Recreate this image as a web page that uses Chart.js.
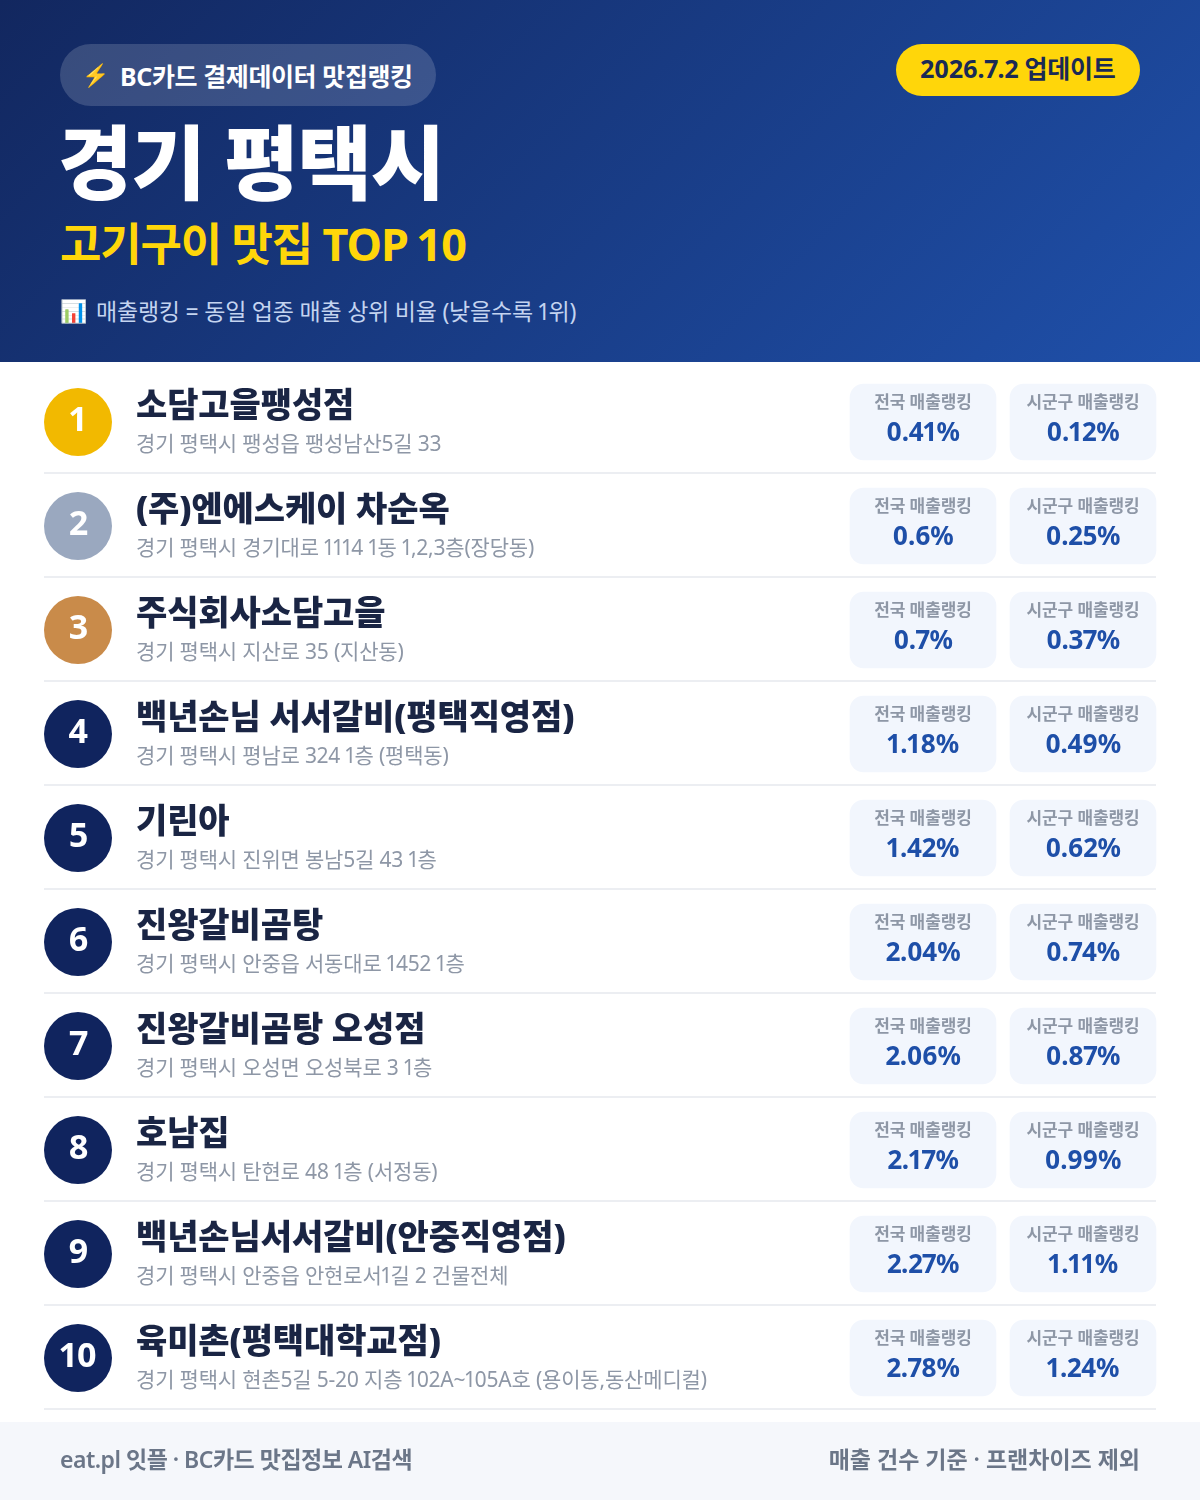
<!DOCTYPE html>
<html lang="ko"><head><meta charset="utf-8">
<style>
*{box-sizing:border-box;margin:0;padding:0}
html,body{width:1200px;height:1500px;background:#fff;overflow:hidden;font-family:"Noto Sans","Noto Sans CJK KR",sans-serif;font-variant-numeric:proportional-nums}
#hdr{position:absolute;left:0;top:0;width:1200px;height:362px;background:linear-gradient(135deg,#12275f 0%,#1f50aa 100%)}
#hdr div,#ftr div{position:absolute;white-space:nowrap}
#badge{left:60px;top:44px;width:376px;height:62px;border-radius:31px;background:rgba(255,255,255,.16)}
#badgeT{left:120px;top:58px;font-size:25px;line-height:37px;font-weight:700;color:#fff;letter-spacing:-.4px}
#bolt{left:82px;top:60px;font-size:22px;line-height:28px}
#date{left:896px;top:44px;width:244px;height:52px;border-radius:26px;background:#ffd60a;color:#1a2a55;font-size:25px;font-weight:700;line-height:48px;text-align:center;letter-spacing:-.2px}
#title{left:58px;top:104px;font-size:81px;line-height:116px;font-weight:900;color:#fff;letter-spacing:-1.3px}
#sub{left:60px;top:212px;font-size:45px;line-height:64px;font-weight:700;color:#ffd60a;letter-spacing:-1.15px}
#note{left:96px;top:294px;font-size:23px;line-height:34px;color:#c4d4f0;letter-spacing:-.22px}
#chartIc{left:60px;top:295px;font-size:22px;line-height:30px}
#wrap{position:absolute;left:0;top:362px;width:1200px;height:1060px}
#wrap canvas{position:absolute;left:0;top:0}
#ov{position:absolute;left:0;top:0;width:1200px;height:1060px}
#ov span{position:absolute;white-space:nowrap;line-height:0}
#ftr{position:absolute;left:0;top:1422px;width:1200px;height:78px;background:#f5f7fb;color:#6b7688;font-size:23px;font-weight:600;line-height:34px}
#fl{left:60px;top:20px;letter-spacing:-.5px}#fr{right:60px;top:20px;letter-spacing:0}
</style>
<script src="https://cdn.jsdelivr.net/npm/chart.js@4"></script>
</head><body>
<div id="hdr">
<div id="badge"></div><div id="bolt">⚡</div><div id="badgeT">BC카드 결제데이터 맛집랭킹</div>
<div id="date">2026.7.2 업데이트</div>
<div id="title">경기 평택시</div>
<div id="sub">고기구이 맛집 TOP 10</div>
<div id="chartIc">📊</div><div id="note">매출랭킹 = 동일 업종 매출 상위 비율 (낮을수록 1위)</div>
</div>
<div id="wrap"><canvas id="c" width="1200" height="1060"></canvas><div id="ov"></div></div>
<div id="ftr"><div id="fl">eat.pl 잇플 · BC카드 맛집정보 AI검색</div><div id="fr">매출 건수 기준 · 프랜차이즈 제외</div></div>
<script>
const ranks=["1","2","3","4","5","6","7","8","9","10"];
const names=["소담고을팽성점","(주)엔에스케이 차순옥","주식회사소담고을","백년손님 서서갈비(평택직영점)","기린아","진왕갈비곰탕","진왕갈비곰탕 오성점","호남집","백년손님서서갈비(안중직영점)","육미촌(평택대학교점)"];
const addresses=["경기 평택시 팽성읍 팽성남산5길 33","경기 평택시 경기대로 1114 1동 1,2,3층(장당동)","경기 평택시 지산로 35 (지산동)","경기 평택시 평남로 324 1층 (평택동)","경기 평택시 진위면 봉남5길 43 1층","경기 평택시 안중읍 서동대로 1452 1층","경기 평택시 오성면 오성북로 3 1층","경기 평택시 탄현로 48 1층 (서정동)","경기 평택시 안중읍 안현로서1길 2 건물전체","경기 평택시 현촌5길 5-20 지층 102A~105A호 (용이동,동산메디컬)"];
const nationalRank=[0.41,0.6,0.7,1.18,1.42,2.04,2.06,2.17,2.27,2.78];
const localRank=[0.12,0.25,0.37,0.49,0.62,0.74,0.87,0.99,1.11,1.24];
const seriesLabels=["전국 매출랭킹","시군구 매출랭킹"];

const cols={badge:78,text:136,nat:[850,996],loc:[1010,1156],ruleL:44,ruleR:1156};
const cellData=(vals,col)=>vals.map((v,i)=>({x:col,y:ranks[i],value:v}));
const tableText={id:'tableText',
 beforeDatasetsDraw(ch){const {ctx,scales:{x,y}}=ch;ctx.save();ctx.fillStyle='#eceef2';
  ranks.forEach(r=>{const b=y.getPixelForValue(ranks.indexOf(r))+52;ctx.fillRect(x.getPixelForValue(cols.ruleL),b-2,x.getPixelForValue(cols.ruleR)-x.getPixelForValue(cols.ruleL),2);});ctx.restore();},
 afterRender(ch){const ov=document.getElementById('ov');if(ov.childElementCount)return;const {scales:{x,y}}=ch;
  const put=(t,px,base,size,weight,color,center,ls)=>{const s=document.createElement('span');s.textContent=t;
   s.style.cssText=`left:${px}px;top:${base-.388*size}px;font-size:${size}px;font-weight:${weight};color:${color};letter-spacing:${ls}px;${center?'transform:translateX(-50%);':''}`;ov.appendChild(s);};
  ranks.forEach((r,i)=>{const cy=y.getPixelForValue(i);
   put(r,x.getPixelForValue(cols.badge),cy+9,34,700,'#fff',true,-1);
   const tx=x.getPixelForValue(cols.text);
   put(names[i],tx,cy-5,34,900,'#1a2544',false,-.1);
   put(addresses[i],tx,cy+29,21,400,'#8e97a6',false,-.18);
   [[cols.nat,nationalRank],[cols.loc,localRank]].forEach(([c,v],k)=>{
     const mx=x.getPixelForValue((c[0]+c[1])/2);
     put(seriesLabels[k],mx,cy-13,17,700,'#8e97a6',true,-.1);
     put(v[i]+'%',mx,cy+19,26,700,'#1e4fa8',true,-.3);
   });
  });}};
new Chart(document.getElementById('c'),{
 data:{labels:ranks,datasets:[
  {type:'bar',label:seriesLabels[0],indexAxis:'y',grouped:false,data:cellData(nationalRank,cols.nat),backgroundColor:'#f2f6fd',barThickness:76,borderRadius:14,borderSkipped:false},
  {type:'bar',label:seriesLabels[1],indexAxis:'y',grouped:false,data:cellData(localRank,cols.loc),backgroundColor:'#f2f6fd',barThickness:76,borderRadius:14,borderSkipped:false},
  {type:'scatter',label:'순위',data:ranks.map(r=>({x:cols.badge,y:r})),pointRadius:34,pointHoverRadius:34,borderWidth:0,
   pointBackgroundColor:ranks.map((r,i)=>i===0?'#f2b900':i===1?'#9aa8bf':i===2?'#c98b4a':'#10245e')}
 ]},
 options:{responsive:false,animation:false,events:[],
  layout:{autoPadding:false,padding:{top:8,bottom:12,left:0,right:0}},
  plugins:{legend:{display:false},tooltip:{enabled:false}},
  scales:{x:{type:'linear',min:0,max:1200,display:false},
          y:{type:'category',labels:ranks,offset:true,display:false,grid:{display:false}}}},
 plugins:[tableText]});
</script>
</body></html>
